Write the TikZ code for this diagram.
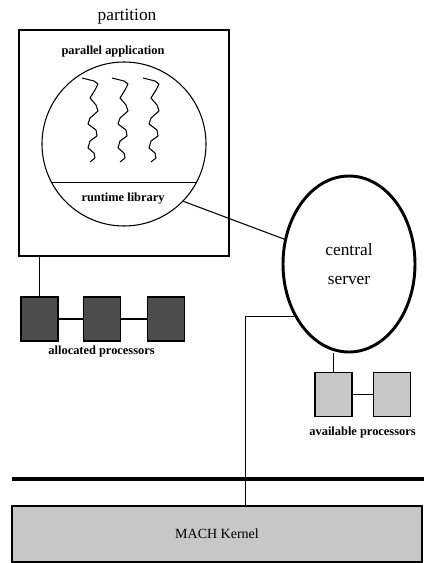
\documentclass[tikz,border=0pt]{standalone}
\usepackage{fontspec}
\setmainfont{Liberation Serif}
\usetikzlibrary{positioning, shapes.geometric, calc}

\begin{document}
\begin{tikzpicture}[x=0.75pt, y=-0.75pt,
        frame/.style={draw, line width=2.2pt, minimum width=157.5pt, minimum height=169.5pt},
        app/.style={draw, circle, line width=0.8pt, minimum size=123pt, inner sep=0pt},
        srv/.style={draw, ellipse, line width=2.2pt, minimum width=99pt, minimum height=132pt, inner sep=0pt, align=center, font=\fontsize{13}{15}\selectfont},
        busy/.style={draw, line width=0.8pt, fill=black!70, minimum width=27.75pt, minimum height=33pt, inner sep=0pt},
        idle/.style={busy, fill=black!22},
        kern/.style={draw, line width=1.1pt, fill=black!22, minimum width=307.5pt, minimum height=42pt, font=\fontsize{10.5}{12}\selectfont},
        lbl/.style={inner sep=1pt, font=\fontsize{9.3}{11}\selectfont\bfseries},
        wire/.style={line width=0.8pt},
        thread/.style={line width=0.8pt, line join=round}
    ]
    \useasboundingbox (0,0) rectangle (424,563);

    % partition with the application
    \node[frame] (part) at (124,143) {};
    \node[font=\fontsize{13}{15}\selectfont] (ptitle) at (127,17) {partition};
    \node[app] (appl) at (124,144) {};
    \node[lbl] (papp) at (113,52) {parallel application};
    \node[lbl] (rtl) at (123,199) {runtime library};
    \draw[wire] (appl.208) -- (appl.-28);
    \foreach \x in {82,112,143}
        \draw[thread] (\x,78) -- ++(12,3) -- ++(4,3) -- ++(-3,6) -- ++(-5,8) -- ++(6,7) -- ++(2,6) -- ++(-8,7) -- ++(-2,6)
            -- ++(8,6) -- ++(1,6) -- ++(-7,5) -- ++(-2,7) -- ++(6,5) -- ++(1,5) -- ++(-5,4);

    % central server
    \node[srv] (server) at (349,264) {central\\[7pt]server};
    \draw[wire] (appl.-44) -- (server.159);

    % allocated processors
    \node[busy] (a1) at (39.5,319) {};
    \node[busy, right=18pt of a1] (a2) {};
    \node[busy, right=19.5pt of a2] (a3) {};
    \node[lbl, below=2pt of a2] (alloc) {allocated processors};
    \draw[wire] (part.south -| a1.north) -- (a1.north);
    \draw[wire] (a1) -- (a2);
    \draw[wire] (a2) -- (a3);

    % available processors
    \node[idle] (b1) at (333.5,394.5) {};
    \node[idle, right=15pt of b1] (b2) {};
    \coordinate (bmid) at ($(b1.south)!0.5!(b2.south)$);
    \node[lbl, below=6pt of bmid] (avail) {available processors};
    \draw[wire] (b1.north) -- (b1.north |- server.south);
    \draw[wire] (b1) -- (b2);

    % kernel and bus
    \node[kern] (kernel) at (217,534) {MACH Kernel};
    \coordinate (busL) at (12,479);
    \coordinate (busR) at (424,479);
    \draw[line width=3pt] (busL) -- (busR);
    \draw[wire] (server.224.5) -| ($(kernel.north west)+(234,0)$);
\end{tikzpicture}
\end{document}
